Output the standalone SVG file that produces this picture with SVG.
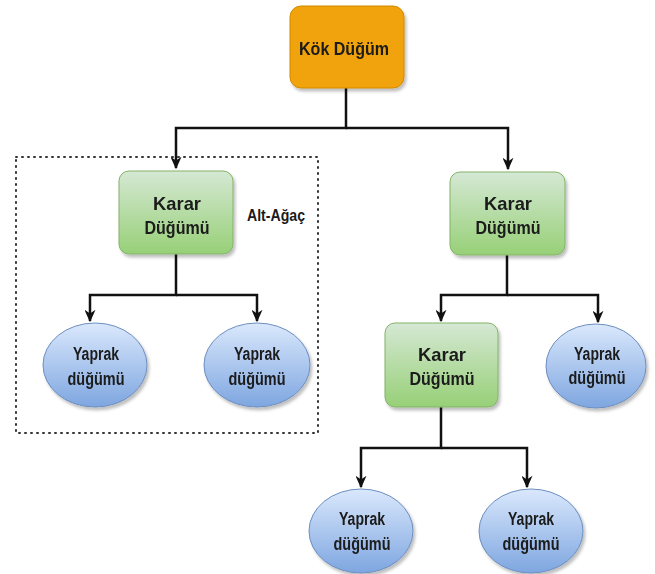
<svg xmlns="http://www.w3.org/2000/svg" width="655" height="574" viewBox="0 0 655 574">
<style>
  text{font-family:"Liberation Sans",Arial,sans-serif;font-weight:bold;fill:#1a1a1a;text-anchor:middle}
  .t19{font-size:19px}
  .t18{font-size:18px}
  .t17{font-size:17px}
  .root{fill:#f0a30a;stroke:#d08a00;stroke-width:1}
  .dec{fill:url(#gGreen);stroke:#82b366;stroke-width:1}
  .leaf{fill:url(#gBlue);stroke:#6c8ebf;stroke-width:1}
  .conn{fill:none;stroke:#111;stroke-width:2.5}
  .sub{fill:none;stroke:#333;stroke-width:2;stroke-dasharray:1 5;stroke-linecap:round}
</style>
<defs>
  <linearGradient id="gGreen" x1="0" y1="0" x2="0" y2="1">
    <stop offset="0" stop-color="#d5e8d4"/>
    <stop offset="1" stop-color="#97d077"/>
  </linearGradient>
  <linearGradient id="gBlue" x1="0" y1="0" x2="0" y2="1">
    <stop offset="0" stop-color="#dae8fc"/>
    <stop offset="1" stop-color="#7ea6e0"/>
  </linearGradient>
  <filter id="sh" x="-20%" y="-20%" width="150%" height="150%">
    <feDropShadow dx="2" dy="3" stdDeviation="1.5" flood-color="#000" flood-opacity="0.25"/>
  </filter>
  <marker id="arr" viewBox="0 0 10 10" refX="9" refY="5" markerWidth="5" markerHeight="4.4" orient="auto" markerUnits="strokeWidth" preserveAspectRatio="none">
    <path d="M0,0 L10,5 L0,10 L3,5 Z" fill="#111"/>
  </marker>
</defs>

<rect class="sub" x="16" y="157" width="302" height="276"/>
<text class="t17" x="276" y="221" textLength="58" lengthAdjust="spacingAndGlyphs">Alt-Ağaç</text>

<g id="connectors">
  <path class="conn" d="M346,88 V128 H176 V168" marker-end="url(#arr)"/>
  <path class="conn" d="M346,128 H508 V169" marker-end="url(#arr)"/>
  <path class="conn" d="M176,254 V295 H90 V321" marker-end="url(#arr)"/>
  <path class="conn" d="M176,295 H257 V321" marker-end="url(#arr)"/>
  <path class="conn" d="M507,255 V295 H441 V321" marker-end="url(#arr)"/>
  <path class="conn" d="M507,295 H598 V322" marker-end="url(#arr)"/>
  <path class="conn" d="M441,407 V448 H361 V487" marker-end="url(#arr)"/>
  <path class="conn" d="M441,448 H527 V487" marker-end="url(#arr)"/>
</g>

<g id="root" filter="url(#sh)">
  <rect class="root" x="290" y="6" width="114" height="82" rx="11"/>
  <text class="t19" x="344" y="55" textLength="90" lengthAdjust="spacingAndGlyphs">Kök Düğüm</text>
</g>

<g id="karar1" filter="url(#sh)">
  <rect class="dec" x="119" y="171" width="114" height="83" rx="10"/>
  <text class="t19" x="177" y="210" textLength="48" lengthAdjust="spacingAndGlyphs">Karar</text>
  <text class="t19" x="177" y="234" textLength="65" lengthAdjust="spacingAndGlyphs">Düğümü</text>
</g>

<g id="karar2" filter="url(#sh)">
  <rect class="dec" x="450" y="172" width="115" height="83" rx="10"/>
  <text class="t19" x="508" y="210" textLength="48" lengthAdjust="spacingAndGlyphs">Karar</text>
  <text class="t19" x="508" y="234" textLength="65" lengthAdjust="spacingAndGlyphs">Düğümü</text>
</g>

<g id="karar3" filter="url(#sh)">
  <rect class="dec" x="385" y="323" width="113" height="84" rx="10"/>
  <text class="t19" x="442" y="361" textLength="48" lengthAdjust="spacingAndGlyphs">Karar</text>
  <text class="t19" x="442" y="385" textLength="65" lengthAdjust="spacingAndGlyphs">Düğümü</text>
</g>

<g id="yaprak1" filter="url(#sh)">
  <ellipse class="leaf" cx="95" cy="365" rx="52" ry="42"/>
  <text class="t18" x="96" y="360" textLength="46" lengthAdjust="spacingAndGlyphs">Yaprak</text>
  <text class="t18" x="96" y="385" textLength="57" lengthAdjust="spacingAndGlyphs">düğümü</text>
</g>

<g id="yaprak2" filter="url(#sh)">
  <ellipse class="leaf" cx="257" cy="365" rx="53" ry="42"/>
  <text class="t18" x="257" y="360" textLength="46" lengthAdjust="spacingAndGlyphs">Yaprak</text>
  <text class="t18" x="257" y="385" textLength="57" lengthAdjust="spacingAndGlyphs">düğümü</text>
</g>

<g id="yaprak3" filter="url(#sh)">
  <ellipse class="leaf" cx="596" cy="366" rx="50" ry="42"/>
  <text class="t18" x="597" y="360" textLength="46" lengthAdjust="spacingAndGlyphs">Yaprak</text>
  <text class="t18" x="597" y="384" textLength="57" lengthAdjust="spacingAndGlyphs">düğümü</text>
</g>

<g id="yaprak4" filter="url(#sh)">
  <ellipse class="leaf" cx="361" cy="531" rx="52" ry="42"/>
  <text class="t18" x="362" y="525" textLength="46" lengthAdjust="spacingAndGlyphs">Yaprak</text>
  <text class="t18" x="362" y="550" textLength="57" lengthAdjust="spacingAndGlyphs">düğümü</text>
</g>

<g id="yaprak5" filter="url(#sh)">
  <ellipse class="leaf" cx="531" cy="531" rx="52" ry="42"/>
  <text class="t18" x="531" y="525" textLength="46" lengthAdjust="spacingAndGlyphs">Yaprak</text>
  <text class="t18" x="531" y="550" textLength="57" lengthAdjust="spacingAndGlyphs">düğümü</text>
</g>
</svg>
